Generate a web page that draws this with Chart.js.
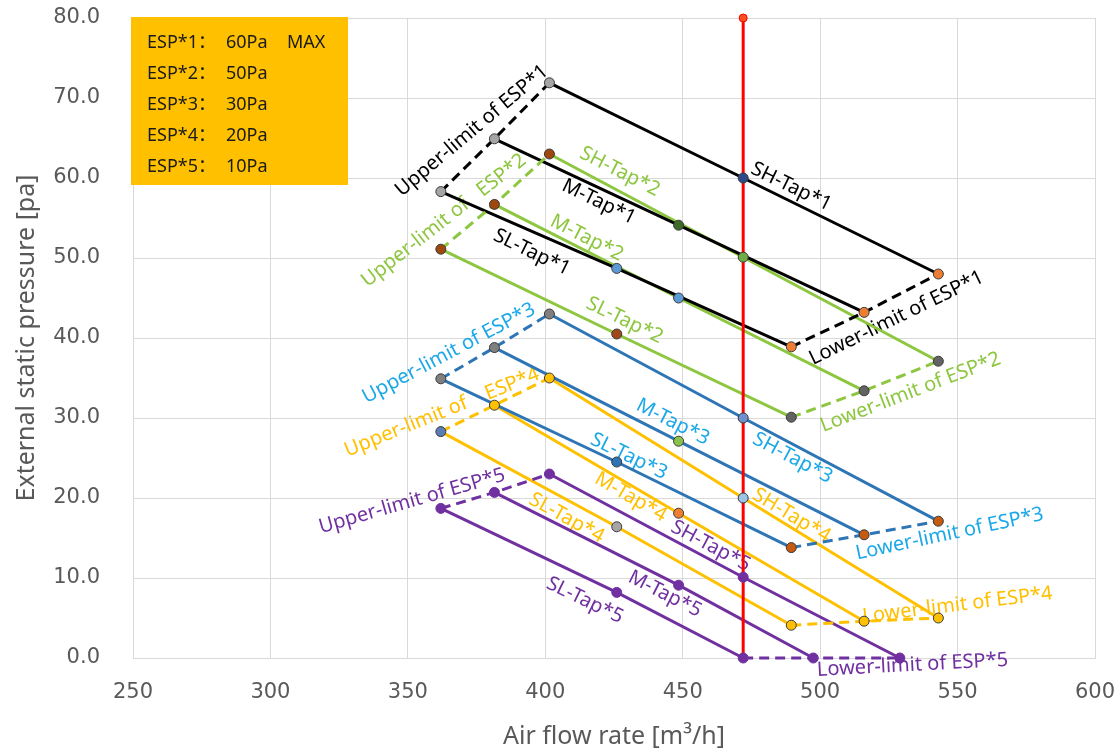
<!DOCTYPE html>
<html lang="en">
<head>
<meta charset="UTF-8">
<title>External static pressure vs air flow rate</title>
<script src="https://cdn.jsdelivr.net/npm/chart.js"></script>
<style>
  html, body { margin: 0; padding: 0; background: #ffffff; }
  #wrap { width: 1120px; height: 753px; }
</style>
</head>
<body>
<div id="wrap"><canvas id="chart"></canvas></div>
<script>
// air flow rate [m3/h] at the three points of each tap line
const flowSL = [362, 426, 489.5];
const flowM = [381.5, 448.5, 516];
const flowSH = [401.5, 472, 543];
const flowSL5 = [362, 426, 472];
const flowM5 = [381.5, 448.5, 497.5];
const flowSH5 = [401.5, 472, 529];

// external static pressure [Pa]
const espSL1 = [58.3, 48.7, 38.9];
const espM1 = [64.9, 54.1, 43.2];
const espSH1 = [71.9, 60.0, 48.0];
const espSL2 = [51.1, 40.5, 30.1];
const espM2 = [56.7, 45.0, 33.4];
const espSH2 = [63.0, 50.1, 37.1];
const espSL3 = [34.9, 24.5, 13.8];
const espM3 = [38.8, 27.1, 15.4];
const espSH3 = [43.0, 30.0, 17.1];
const espSL4 = [28.3, 16.4, 4.1];
const espM4 = [31.6, 18.1, 4.6];
const espSH4 = [35.0, 20.0, 5.0];
const espSL5 = [18.7, 8.2, 0.0];
const espM5 = [20.7, 9.1, 0.0];
const espSH5 = [23.0, 10.1, 0.0];

// rated air flow line
const ratedFlow = [472, 472];
const ratedPressure = [0, 80];

// ESP settings box
const espNames = ['ESP*1：', 'ESP*2：', 'ESP*3：', 'ESP*4：', 'ESP*5：'];
const espValues = ['60Pa', '50Pa', '30Pa', '20Pa', '10Pa'];
const espNotes = ['MAX', '', '', '', ''];

// axes
const xMin = 250, xMax = 600, xStep = 50;
const yMin = 0, yMax = 80, yStep = 10;

// text on the lines: [text, flow, pressure, angle, group]
const lineLabels = [
  ['Upper-limit of ESP*1', 373.3, 65.9, -40, 0],
  ['SH-Tap*1', 489.5, 58.9, 26, 0],
  ['M-Tap*1', 419.5, 57.0, 26, 0],
  ['SL-Tap*1', 395.1, 50.7, 26, 0],
  ['Lower-limit of ESP*1', 527.8, 42.5, -26, 0],
  ['Upper-limit of   ESP*2', 363.1, 54.7, -38, 1],
  ['SH-Tap*2', 427.1, 60.8, 27, 1],
  ['M-Tap*2', 415.1, 52.5, 27, 1],
  ['SL-Tap*2', 428.9, 42.2, 26, 1],
  ['Lower-limit of ESP*2', 532.9, 33.2, -21, 1],
  ['Upper-limit of ESP*3', 364.9, 38.1, -28, 2],
  ['SH-Tap*3', 490.0, 25.0, 28, 2],
  ['M-Tap*3', 446.4, 29.5, 27, 2],
  ['SL-Tap*3', 430.4, 25.2, 26, 2],
  ['Lower-limit of ESP*3', 547.1, 15.5, -12, 2],
  ['Upper-limit of    ESP*4', 362.4, 30.7, -22, 3],
  ['SH-Tap*4', 489.6, 17.8, 31, 3],
  ['M-Tap*4', 431.1, 20.1, 30, 3],
  ['SL-Tap*4', 407.8, 17.5, 29, 3],
  ['Lower-limit of ESP*4', 550.0, 6.6, -7, 3],
  ['Upper-limit of ESP*5', 351.5, 19.6, -16, 4],
  ['SH-Tap*5', 460.2, 14.0, 28, 4],
  ['M-Tap*5', 443.5, 8.0, 27, 4],
  ['SL-Tap*5', 414.4, 7.2, 26, 4],
  ['Lower-limit of ESP*5', 533.6, -0.9, -3, 4]
];

// one entry per ESP: tap lines in order SL, M, SH
const groups = [
  { line: '#000000', text: '#000000', flows: [flowSL, flowM, flowSH], taps: [espSL1, espM1, espSH1],
    marks: [['#A5A5A5', '#5B9BD5', '#ED7D31'], ['#A5A5A5', '#3F6B2A', '#ED7D31'], ['#A5A5A5', '#2F4A8A', '#ED7D31']] },
  { line: '#8DC63F', text: '#8DC63F', flows: [flowSL, flowM, flowSH], taps: [espSL2, espM2, espSH2],
    marks: [['#9E480E', '#A0481A', '#636363'], ['#9E480E', '#5B9BD5', '#636363'], ['#9E480E', '#70AD47', '#636363']] },
  { line: '#2E75B6', text: '#1BA8E8', flows: [flowSL, flowM, flowSH], taps: [espSL3, espM3, espSH3],
    marks: [['#7F7F7F', '#2E75B6', '#C55A11'], ['#7F7F7F', '#8BC34A', '#C55A11'], ['#7F7F7F', '#6F8FD0', '#C55A11']] },
  { line: '#FFC000', text: '#FFC000', flows: [flowSL, flowM, flowSH], taps: [espSL4, espM4, espSH4],
    marks: [['#5A7DB5', '#A5A5A5', '#FFC000'], ['#FFC000', '#ED7D31', '#FFC000'], ['#FFC000', '#9DC3E6', '#FFC000']] },
  { line: '#7030A0', text: '#7030A0', flows: [flowSL5, flowM5, flowSH5], taps: [espSL5, espM5, espSH5],
    marks: [['#7030A0', '#7030A0', '#7030A0'], ['#7030A0', '#7030A0', '#7030A0'], ['#7030A0', '#7030A0', '#7030A0']] }
];

function toPoints(xs, ys) {
  return xs.map((x, i) => ({ x: x, y: ys[i] }));
}

const datasets = [];
groups.forEach((g, gi) => {
  const lines = g.taps.map((ys, ti) => toPoints(g.flows[ti], ys));
  // tap lines
  lines.forEach(pts => {
    datasets.push({ data: pts, showLine: true, borderColor: g.line, borderWidth: 3,
      pointRadius: 0, clip: false, order: 3 });
  });
  // upper / lower limit (dashed), through first and last points of the tap lines
  [0, 2].forEach(k => {
    datasets.push({ data: lines.map(pts => pts[k]), showLine: true, borderColor: g.line,
      borderWidth: 3, borderDash: [10, 6], pointRadius: 0, clip: false, order: 2 });
  });
  // markers
  lines.forEach((pts, ti) => {
    datasets.push({ data: pts, showLine: false, pointRadius: 5,
      pointBackgroundColor: g.marks[ti],
      pointBorderColor: gi === 4 ? '#7030A0' : '#3A3A3A', pointBorderWidth: 1,
      clip: false, order: 0 });
  });
});

datasets.push({ data: toPoints(ratedFlow, ratedPressure), showLine: true, borderColor: '#FF0000',
  borderWidth: 3, pointRadius: [0, 4], pointBackgroundColor: '#F4511E', pointBorderColor: '#FF0000',
  pointBorderWidth: 1, clip: false, order: 1 });

const lineLabelPlugin = {
  id: 'lineLabels',
  beforeDatasetsDraw(chart) {
    const { ctx, scales: { x, y } } = chart;
    ctx.save();
    ctx.font = '20px "Noto Sans"';
    ctx.textAlign = 'center';
    ctx.textBaseline = 'middle';
    lineLabels.forEach(l => {
      ctx.save();
      ctx.translate(x.getPixelForValue(l[1]), y.getPixelForValue(l[2]));
      ctx.rotate(l[3] * Math.PI / 180);
      ctx.fillStyle = groups[l[4]].text;
      ctx.fillText(l[0], 0, 0);
      ctx.restore();
    });
    ctx.restore();
  },
  afterDraw(chart) {
    // ESP settings box in the top left corner
    const { ctx, chartArea } = chart;
    const left = chartArea.left - 2, top = chartArea.top - 1;
    ctx.save();
    ctx.fillStyle = '#FFC000';
    ctx.fillRect(left, top, 217, 168);
    ctx.fillStyle = '#1A1A1A';
    ctx.font = '18px "Noto Sans", "Noto Sans CJK SC"';
    ctx.textBaseline = 'middle';
    espNames.forEach((n, i) => {
      const cy = top + 26 + i * 31;
      ctx.fillText(n, left + 16, cy);
      ctx.fillText(espValues[i], left + 95, cy);
      if (espNotes[i]) ctx.fillText(espNotes[i], left + 156, cy);
    });
    ctx.restore();
  }
};

new Chart(document.getElementById('chart'), {
  type: 'scatter',
  data: { datasets: datasets },
  options: {
    responsive: true,
    maintainAspectRatio: false,
    animation: false,
    layout: { padding: { left: 4, right: 25, top: 18, bottom: 0 } },
    plugins: { legend: { display: false }, tooltip: { enabled: false } },
    scales: {
      x: {
        type: 'linear', min: xMin, max: xMax,
        afterFit: s => { s.height = 95; },
        ticks: { stepSize: xStep, padding: 4, color: '#595959',
          font: { family: 'DejaVu Sans', size: 21 } },
        grid: { color: '#D9D9D9', lineWidth: 1, drawTicks: true, tickLength: 18, tickColor: 'rgba(0,0,0,0)' },
        border: { color: '#D9D9D9' },
        title: { display: true, text: 'Air flow rate [m³/h]', color: '#595959',
          font: { family: 'Noto Sans', size: 25 }, padding: { top: 0, bottom: 1 } }
      },
      y: {
        type: 'linear', min: yMin, max: yMax,
        afterFit: s => { s.width = 129; },
        ticks: { stepSize: yStep, padding: 4, color: '#595959',
          font: { family: 'DejaVu Sans', size: 21 },
          callback: v => v.toFixed(1) },
        grid: { color: '#D9D9D9', lineWidth: 1, drawTicks: true, tickLength: 29, tickColor: 'rgba(0,0,0,0)' },
        border: { color: '#D9D9D9' },
        title: { display: true, text: 'External static pressure [pa]', color: '#595959',
          font: { family: 'Noto Sans', size: 25 }, padding: { top: 8, bottom: 0 } }
      }
    }
  },
  plugins: [lineLabelPlugin]
});
</script>
</body>
</html>
